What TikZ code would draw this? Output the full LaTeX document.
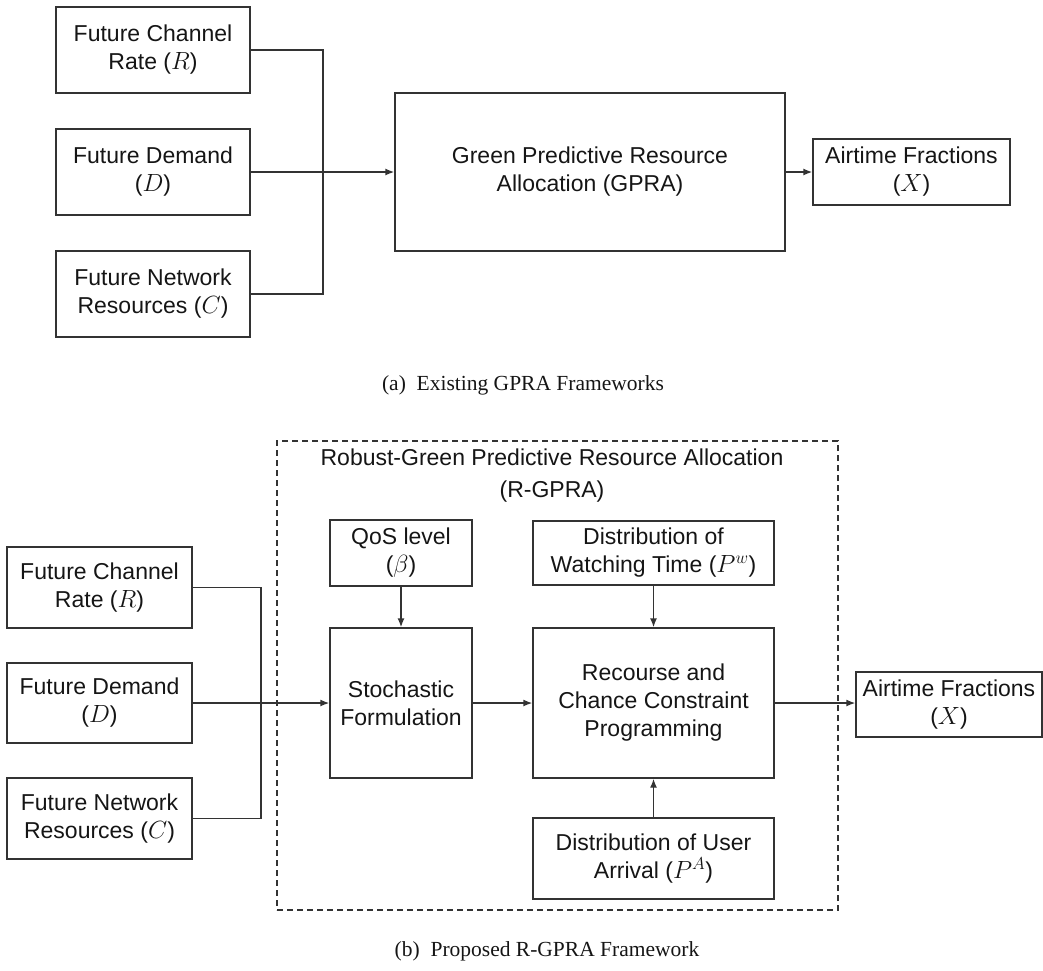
\documentclass[tikz,border=0pt]{standalone}
\usepackage{fontspec}
\newfontfamily\sff{Liberation Sans}
\newfontfamily\capfont{Liberation Serif}
\usetikzlibrary{arrows.meta}
\definecolor{edge}{HTML}{333333}
\definecolor{ink}{HTML}{151515}
\begin{document}
\begin{tikzpicture}[x=1pt,y=-1pt,
  blk/.style={draw=edge,line width=1.4pt,rectangle,inner sep=0pt,align=center,text=ink,
    font=\sff\fontsize{23}{28}\selectfont},
  wire/.style={draw=edge,line width=1.4pt},
  arr/.style={wire,-{Latex[length=9pt,width=7pt]}},
  captxt/.style={text=ink,font=\capfont\fontsize{21.5}{26}\selectfont,inner sep=0pt},
  ttl/.style={text=ink,align=center,inner sep=0pt,font=\sff\fontsize{23}{32}\selectfont}]
\useasboundingbox (0,0) rectangle (1043,970);
% ---------- (a) ----------
\node[blk,minimum width=194pt,minimum height=86pt] (R1) at (153,50) {Future Channel\\Rate ($R$)};
\node[blk,minimum width=194pt,minimum height=86pt] (D1) at (153,172) {Future Demand\\($D$)};
\node[blk,minimum width=194pt,minimum height=86pt] (C1) at (153,294) {Future Network\\Resources ($C$)};
\node[blk,minimum width=390pt,minimum height=158pt] (G1) at (590,172) {Green Predictive Resource\\Allocation (GPRA)};
\node[blk,minimum width=197pt,minimum height=66pt] (X1) at (911.5,172) {Airtime Fractions\\($X$)};
\coordinate (J1) at (323,172);
\draw[wire] (R1.east) -| (J1) |- (C1.east);
\draw[arr] (D1.east) -- (G1.west);
\draw[arr] (G1.east) -- (X1.west);
\node[captxt] (capA) at (523,385) {(a)\ \ Existing GPRA Frameworks};
% ---------- (b) ----------
\node[draw=edge,line width=1.1pt,dash pattern=on 6pt off 4pt,inner sep=0pt,
  minimum width=561pt,minimum height=469pt] (frame) at (557.5,675.5) {};
\node[ttl] (title) at (552,476) {Robust-Green Predictive Resource Allocation\\(R-GPRA)};
\node[blk,minimum width=185pt,minimum height=81pt] (R2) at (99.5,587.5) {Future Channel\\Rate ($R$)};
\node[blk,minimum width=185pt,minimum height=80pt] (D2) at (99.5,703) {Future Demand\\($D$)};
\node[blk,minimum width=185pt,minimum height=81pt] (C2) at (99.5,818.5) {Future Network\\Resources ($C$)};
\node[blk,minimum width=142pt,minimum height=66pt] (Q) at (401,553) {QoS level\\($\beta$)};
\node[blk,minimum width=142pt,minimum height=150pt] (S) at (401,703) {Stochastic\\Formulation};
\node[blk,minimum width=241pt,minimum height=64pt] (W) at (653.5,553) {Distribution of\\Watching Time ($P^{w}$)};
\node[blk,minimum width=241pt,minimum height=150pt] (RC) at (653.5,703) {Recourse and\\Chance Constraint\\Programming};
\node[blk,minimum width=241pt,minimum height=81pt] (U) at (653.5,858.5) {Distribution of User\\Arrival ($P^{A}$)};
\node[blk,minimum width=186pt,minimum height=65pt] (X2) at (949,704.5) {Airtime Fractions\\($X$)};
\coordinate (J2) at (261,703);
\draw[wire] (R2.east) -| (J2) |- (C2.east);
\draw[arr] (D2.east) -- (S.west);
\draw[arr] (Q.south) -- (S.north);
\draw[arr] (S.east) -- (RC.west);
\draw[arr] (W.south) -- (RC.north);
\draw[arr] (U.north) -- (RC.south);
\draw[arr] (RC.east) -- (RC.east -| X2.west);
\node[captxt] (capB) at (547,951) {(b)\ \ Proposed R-GPRA Framework};
\end{tikzpicture}
\end{document}
